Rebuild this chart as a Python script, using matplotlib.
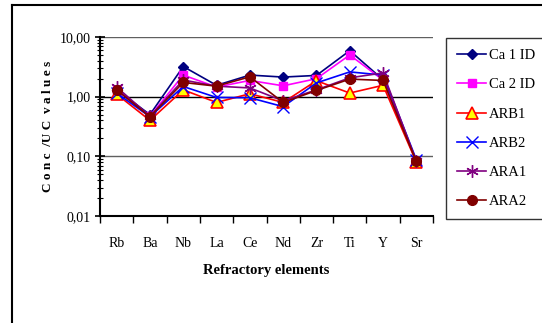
import numpy as np
import matplotlib
matplotlib.use('Agg')
import matplotlib.pyplot as plt
from matplotlib.ticker import FixedLocator, LogLocator, NullFormatter
from matplotlib.lines import Line2D

plt.rcParams['font.family'] = ['Liberation Serif', 'DejaVu Serif']

elements = ['Rb', 'Ba', 'Nb', 'La', 'Ce', 'Nd', 'Zr', 'Ti', 'Y', 'Sr']

ca1_id = [1.30, 0.50, 3.20, 1.55, 2.30, 2.13, 2.27, 5.90, 1.92, 0.083]
ca2_id = [1.30, 0.47, 2.30, 1.45, 1.87, 1.52, 2.00, 5.00, 1.90, 0.083]
arb1 = [1.10, 0.40, 1.30, 0.80, 1.12, 0.80, 1.85, 1.15, 1.55, 0.080]
arb2 = [1.15, 0.46, 1.48, 0.97, 0.96, 0.68, 1.70, 2.60, 2.30, 0.088]
ara1 = [1.45, 0.47, 1.90, 1.50, 1.40, 0.85, 1.30, 2.07, 2.50, 0.083]
ara2 = [1.30, 0.46, 1.73, 1.50, 2.15, 0.80, 1.27, 1.97, 1.87, 0.082]

series = [
    ('Ca 1 ID', ca1_id, dict(color='#000080', marker='D', ms=5, mfc='#000080', mec='#000080')),
    ('Ca 2 ID', ca2_id, dict(color='#FF00FF', marker='s', ms=6, mfc='#FF00FF', mec='#FF00FF')),
    ('ARB1', arb1, dict(color='#FF0000', marker='^', ms=9, mfc='#FFFF00', mec='#FF0000', mew=1.2)),
    ('ARB2', arb2, dict(color='#0000FF', marker='x', ms=9, mec='#0000FF', mew=1.0)),
    ('ARA1', ara1, dict(color='#800080', marker=(6, 2, 0), ms=9, mec='#800080', mew=1.0)),
    ('ARA2', ara2, dict(color='#800000', marker='o', ms=7, mfc='#800000', mec='#800000')),
]

fig = plt.figure(figsize=(5.42, 3.23), dpi=100)
ax = fig.add_axes([100 / 542, 1 - 216 / 323, 333 / 542, 179 / 323])

x = np.arange(len(elements))
for name, vals, style in series:
    ax.plot(x, vals, lw=1.2, label=name, **style)

ax.set_yscale('log')
ax.set_ylim(0.01, 10)
ax.set_xlim(-0.5, len(elements) - 0.5)

for v in [0.1, 1, 10]:
    ax.axhline(v, color='#000000' if v == 1 else '#606060', lw=1.0, zorder=0)

ax.yaxis.set_major_locator(FixedLocator([0.01, 0.1, 1, 10]))
ax.set_yticklabels(['0,01', '0,10', '1,00', '10,00'])
ax.yaxis.set_minor_locator(LogLocator(base=10, subs=np.arange(2, 10)))
ax.yaxis.set_minor_formatter(NullFormatter())
ax.tick_params(axis='y', which='major', direction='inout', length=7, width=1.2, labelsize=10, pad=3)
ax.tick_params(axis='y', which='minor', direction='inout', length=5, width=0.8)

ax.set_xticks(x)
ax.set_xticklabels(elements)
ax.xaxis.set_minor_locator(FixedLocator(np.arange(-0.5, len(elements), 1.0)))
ax.tick_params(axis='x', which='major', length=0, labelsize=10, pad=15)
ax.tick_params(axis='x', which='minor', direction='out', length=5, width=1.0)

for s in ['top', 'right']:
    ax.spines[s].set_visible(False)
for s in ['left', 'bottom']:
    ax.spines[s].set_linewidth(1.5)

ax.set_ylabel('C o n c  /U C  v a l u e s', fontsize=9.5, fontweight='bold', labelpad=4)
ax.set_xlabel('Refractory elements', fontsize=10.5, fontweight='bold', labelpad=10)

leg = fig.legend(loc='upper left', bbox_to_anchor=(446 / 542, 1 - 38 / 323),
                 frameon=True, fancybox=False, edgecolor='black', fontsize=10.5,
                 labelspacing=1.1, handlelength=2.0, handletextpad=0.2,
                 borderpad=0.75, borderaxespad=0)
leg.get_frame().set_linewidth(1.0)

# outer frame of the chart area
fig.add_artist(Line2D([12 / 542, 12 / 542], [0, 1 - 5 / 323], color='black', lw=1.5))
fig.add_artist(Line2D([12 / 542, 1], [1 - 5 / 323, 1 - 5 / 323], color='black', lw=1.5))

fig.savefig('out.png', dpi=100)
